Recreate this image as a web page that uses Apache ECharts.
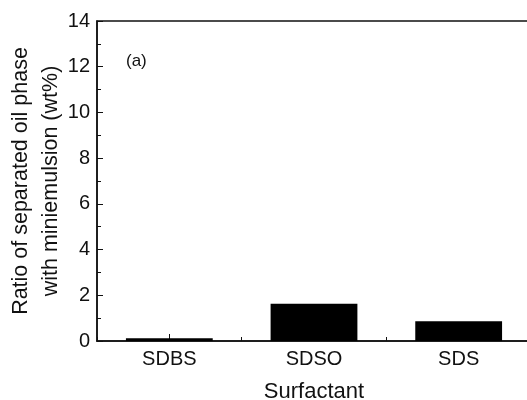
<!DOCTYPE html>
<html><head><meta charset="utf-8">
<script src="https://cdn.jsdelivr.net/npm/echarts@6/dist/echarts.min.js"></script>
<style>html,body{margin:0;padding:0;background:#fff}#c{width:527px;height:400px}</style>
</head><body><div id="c"></div>
<script>
const categories = ['SDBS', 'SDSO', 'SDS'];
const ratioValues = [0.12, 1.63, 0.86];
const yTicks = [0, 2, 4, 6, 8, 10, 12, 14];

const font = 'Liberation Sans, Arial, sans-serif';
const chart = echarts.init(document.getElementById('c'));
chart.setOption({
  animation: false,
  backgroundColor: '#fff',
  title: { text: '(a)', left: 121, top: 48, textStyle: { fontFamily: font, fontSize: 17, fontWeight: 'normal', color: '#111' } },
  grid: { left: 97, top: 21, right: -4, bottom: 59, show: true, borderColor: '#111', borderWidth: 1.5,
          outerBoundsMode: 'none', containLabel: false },
  xAxis: [{
    type: 'category', data: categories,
    name: 'Surfactant', nameLocation: 'middle', nameGap: 40, nameMoveOverlap: false,
    nameTextStyle: { fontFamily: font, fontSize: 22, color: '#111' },
    axisLine: { lineStyle: { color: '#111', width: 1.5 } },
    axisTick: { show: true, inside: true, alignWithLabel: true, length: 7, lineStyle: { color: '#111' } },
    axisLabel: { fontFamily: font, fontSize: 20, color: '#111', margin: 8 }
  }, {
    type: 'category', data: categories, position: 'bottom',
    axisLine: { show: false },
    axisTick: { show: true, inside: true, length: 4, lineStyle: { color: '#111' } },
    axisLabel: { show: false }
  }],
  yAxis: {
    type: 'value', min: yTicks[0], max: yTicks[yTicks.length - 1], interval: 2,
    name: 'Ratio of separated oil phase\nwith miniemulsion (wt%)',
    nameLocation: 'middle', nameGap: 31, nameMoveOverlap: false,
    nameTextStyle: { fontFamily: font, fontSize: 21.5, color: '#111', lineHeight: 30 },
    axisLine: { show: true, lineStyle: { color: '#111', width: 1.5 } },
    axisTick: { show: true, inside: true, length: 6, lineStyle: { color: '#111' } },
    minorTick: { show: true, splitNumber: 2, length: 4, lineStyle: { color: '#111' } },
    splitLine: { show: false },
    axisLabel: { fontFamily: font, fontSize: 20, color: '#111', margin: 7 }
  },
  series: [{
    type: 'bar', data: ratioValues, barWidth: '60%',
    itemStyle: { color: '#000' }
  }]
});
</script></body></html>
